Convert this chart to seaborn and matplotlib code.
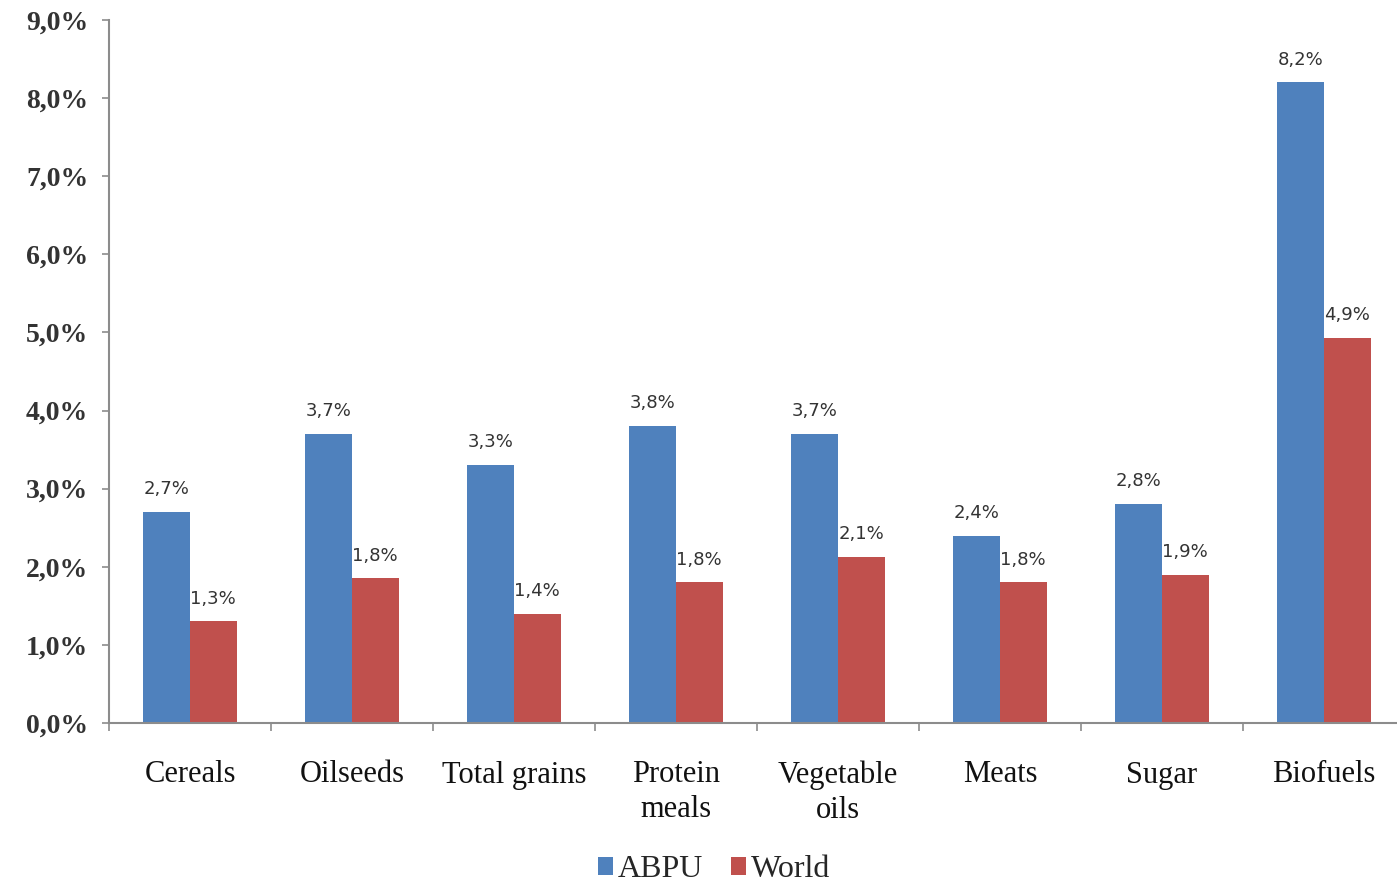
import matplotlib
matplotlib.use("Agg")
import matplotlib.pyplot as plt
import seaborn as sns
import pandas as pd
from matplotlib.patches import Patch

categories = ["Cereals", "Oilseeds", "Total grains", "Protein\nmeals",
              "Vegetable\noils", "Meats", "Sugar", "Biofuels"]
abpu = [2.7, 3.7, 3.3, 3.8, 3.7, 2.4, 2.8, 8.2]
world = [1.3, 1.85, 1.4, 1.8, 2.13, 1.8, 1.9, 4.93]
abpu_labels = ["2,7%", "3,7%", "3,3%", "3,8%", "3,7%", "2,4%", "2,8%", "8,2%"]
world_labels = ["1,3%", "1,8%", "1,4%", "1,8%", "2,1%", "1,8%", "1,9%", "4,9%"]
series = ["ABPU", "World"]
yticks = [0, 1, 2, 3, 4, 5, 6, 7, 8, 9]
ytick_labels = ["0,0%", "1,0%", "2,0%", "3,0%", "4,0%", "5,0%", "6,0%", "7,0%", "8,0%", "9,0%"]

colors = {"ABPU": "#4F81BD", "World": "#C0504D"}

df = pd.DataFrame({
    "category": categories * 2,
    "series": ["ABPU"] * len(categories) + ["World"] * len(categories),
    "value": abpu + world,
})

sns.set_theme(style="white")
plt.rcParams["font.family"] = ["DejaVu Sans"]

W, H = 1397, 890
fig = plt.figure(figsize=(W / 100, H / 100), dpi=100)
ax = fig.add_axes([109 / W, (H - 723) / H, 1296 / W, 703 / H])

sns.barplot(data=df, x="category", y="value", hue="series", order=categories,
            hue_order=series, palette=colors, width=0.575, gap=0,
            saturation=1, ax=ax, legend=False, edgecolor="none", linewidth=0)

ax.set_xlim(-0.5, len(categories) - 0.5)
ax.set_ylim(0, 9.0)
ax.set_xlabel("")
ax.set_ylabel("")

# data labels
for cont, labs in zip(ax.containers, [abpu_labels, world_labels]):
    for rect, lab in zip(cont, labs):
        ax.annotate(lab, (rect.get_x() + rect.get_width() / 2, rect.get_height()),
                    xytext=(0, 10), textcoords="offset points", ha="center",
                    va="bottom", fontsize=13, color="#333333",
                    family="DejaVu Sans")

# spines
for s in ["top", "right"]:
    ax.spines[s].set_visible(False)
for s in ["left", "bottom"]:
    ax.spines[s].set_color("#8c8c8c")
    ax.spines[s].set_linewidth(1.5)

ax.set_yticks(yticks)
ax.set_yticklabels(ytick_labels, family="Liberation Serif", fontsize=20,
                   color="#333333", fontweight="bold")
ax.tick_params(axis="y", direction="out", length=5, width=1.2, color="#8c8c8c",
               pad=10, left=True)

# x: category labels at centers, ticks at boundaries
ax.set_xticks(range(len(categories)))
ax.set_xticklabels(categories, family="Liberation Serif", fontsize=22,
                   color="#111111", linespacing=1.25)
ax.tick_params(axis="x", length=0, pad=27)
ax.set_xticks([i - 0.5 for i in range(len(categories) + 1)], minor=True)
ax.tick_params(axis="x", which="minor", direction="out", length=6, width=1.2,
               color="#8c8c8c", bottom=True)

handles = [Patch(facecolor=colors[s], edgecolor="none", label=s) for s in series]
leg = fig.legend(handles=handles, loc="lower center", bbox_to_anchor=(714 / W, -0.026),
                 ncol=2, frameon=False, handlelength=0.45, handleheight=0.45,
                 handletextpad=0.15, columnspacing=0.9,
                 prop={"family": "Liberation Serif", "size": 23})

fig.savefig("out.png", dpi=100)
